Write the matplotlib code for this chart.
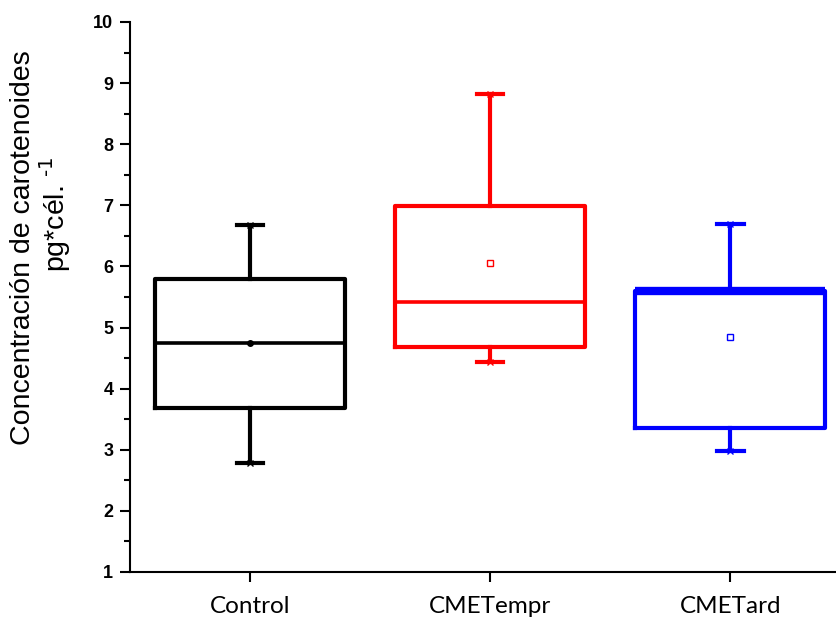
import matplotlib.pyplot as plt
from matplotlib.ticker import MultipleLocator

# Valores (pg*cél.-1)
grupos = ['Control', 'CMETempr', 'CMETard']
q1 = [3.68, 4.68, 3.36]
mediana = [4.74, 5.42, 5.60]
q3 = [5.80, 6.99, 5.60]
minimo = [2.78, 4.43, 2.98]
maximo = [6.68, 8.82, 6.70]
media = [4.74, 6.06, 4.85]
colores = ['black', 'red', 'blue']

fig = plt.figure(figsize=(8.36, 6.21), dpi=100)
ax = fig.add_axes([130 / 836, 49 / 621, 706 / 836, 550 / 621])

for i, g in enumerate(grupos):
    stats = [{'label': g, 'q1': q1[i], 'med': mediana[i], 'q3': q3[i],
              'whislo': minimo[i], 'whishi': maximo[i], 'mean': media[i],
              'fliers': []}]
    c = colores[i]
    if i == 0:
        mprops = dict(marker='o', markersize=4, markerfacecolor=c, markeredgecolor=c)
    else:
        mprops = dict(marker='s', markersize=4, markerfacecolor='white',
                      markeredgecolor=c, markeredgewidth=1)
    ax.bxp(stats, positions=[i + 1], widths=0.79, showmeans=True,
           capwidths=0.11,
           boxprops=dict(color=c, linewidth=3),
           whiskerprops=dict(color=c, linewidth=3),
           capprops=dict(color=c, linewidth=3),
           medianprops=dict(color=c, linewidth=6 if i == 2 else 2.6),
           meanprops=mprops)
    ax.plot([i + 1, i + 1], [minimo[i], maximo[i]], linestyle='none',
            marker='x', markersize=5, color=c, markeredgewidth=1)

ax.set_xlim(0.5, 3.44)
ax.set_ylim(1, 10)
ax.yaxis.set_major_locator(MultipleLocator(1))
ax.yaxis.set_minor_locator(MultipleLocator(0.5))
ax.set_xticks([1, 2, 3])
ax.set_xticklabels(grupos, fontsize=17.5, family='Lato')

for s in ['top', 'right']:
    ax.spines[s].set_visible(False)
for s in ['left', 'bottom']:
    ax.spines[s].set_linewidth(1.5)

ax.tick_params(axis='y', which='major', length=7, width=1.5, labelsize=13, pad=5)
ax.tick_params(axis='y', which='minor', length=4, width=1.5)
ax.tick_params(axis='x', length=7, width=1.5, pad=10)
for lab in ax.get_yticklabels():
    lab.set_fontweight('bold')
    lab.set_family('Liberation Sans')

fig.text(23 / 836, 1 - 248 / 621, 'Concentración de carotenoides', rotation=90,
         ha='center', va='center', fontsize=20.5, family='Liberation Sans')
fig.text(55 / 836, 1 - 214 / 621, 'pg*cél. $^{\\text{-1}}$', rotation=90,
         ha='center', va='center', fontsize=20.5, family='Liberation Sans')

fig.savefig('out.png', dpi=100)
